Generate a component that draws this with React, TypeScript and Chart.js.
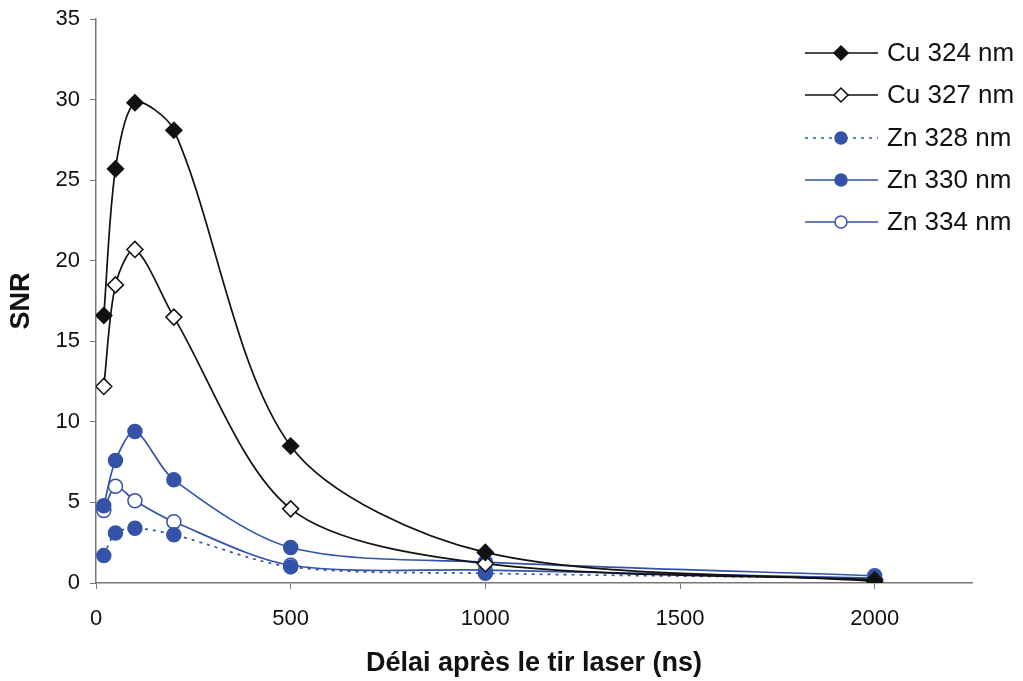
import React, { useEffect, useRef } from "react";
import { Chart, registerables } from "chart.js";

Chart.register(...registerables);

const delays = [20, 50, 100, 200, 500, 1000, 2000];
const cu324 = [16.6, 25.7, 29.8, 28.1, 8.5, 1.9, 0.1];
const cu327 = [12.2, 18.5, 20.7, 16.5, 4.6, 1.2, 0.2];
const zn328 = [1.7, 3.1, 3.4, 3.0, 1.0, 0.6, 0.3];
const zn330 = [4.8, 7.6, 9.4, 6.4, 2.2, 1.3, 0.45];
const zn334 = [4.5, 6.0, 5.1, 3.8, 1.1, 0.8, 0.3];
const xTicks = [0, 500, 1000, 1500, 2000];
const yTicks = [0, 5, 10, 15, 20, 25, 30, 35];

const BLUE = "#3453a8";
const FONT = "'Liberation Sans', Arial, sans-serif";

const pts = (ys: number[]) => delays.map((x, i) => ({ x, y: ys[i] }));

export default function App() {
  const ref = useRef<HTMLCanvasElement | null>(null);
  useEffect(() => {
    if (!ref.current) return;
    const series = [
      { label: "Cu 324 nm", data: cu324, color: "#111", fill: "#111", style: "rectRot", dash: [] as number[], r: 8 },
      { label: "Cu 327 nm", data: cu327, color: "#111", fill: "#fff", style: "rectRot", dash: [], r: 8 },
      { label: "Zn 328 nm", data: zn328, color: BLUE, fill: BLUE, style: "circle", dash: [3, 5], r: 7 },
      { label: "Zn 330 nm", data: zn330, color: BLUE, fill: BLUE, style: "circle", dash: [], r: 7 },
      { label: "Zn 334 nm", data: zn334, color: BLUE, fill: "#fff", style: "circle", dash: [], r: 7 },
    ];
    const titles = {
      id: "titlesLegend",
      afterDraw(chart: any) {
        const ctx = chart.ctx;
        const area = chart.chartArea;
        ctx.save();
        ctx.fillStyle = "#111";
        ctx.font = `bold 27px ${FONT}`;
        ctx.textAlign = "center";
        ctx.textBaseline = "middle";
        ctx.fillText("Délai après le tir laser (ns)", (area.left + area.right) / 2, 664);
        ctx.translate(22, (area.top + area.bottom) / 2);
        ctx.rotate(-Math.PI / 2);
        ctx.fillText("SNR", 0, 0);
        ctx.restore();
        // legend
        ctx.save();
        const rows = [53, 95, 138, 180, 222];
        series.forEach((s, i) => {
          const y = rows[i];
          ctx.strokeStyle = s.color;
          ctx.lineWidth = 1.5;
          ctx.setLineDash(s.dash);
          ctx.beginPath();
          ctx.moveTo(805, y);
          ctx.lineTo(878, y);
          ctx.stroke();
          ctx.setLineDash([]);
          ctx.fillStyle = s.fill;
          ctx.beginPath();
          if (s.style === "rectRot") {
            const r = 7;
            ctx.moveTo(841, y - r);
            ctx.lineTo(841 + r, y);
            ctx.lineTo(841, y + r);
            ctx.lineTo(841 - r, y);
            ctx.closePath();
          } else {
            ctx.arc(841, y, 6, 0, Math.PI * 2);
          }
          ctx.fill();
          ctx.stroke();
          ctx.fillStyle = "#111";
          ctx.font = `26px ${FONT}`;
          ctx.textAlign = "left";
          ctx.textBaseline = "middle";
          ctx.fillText(s.label, 887, y + 1);
        });
        ctx.restore();
      },
    };
    const chart = new Chart(ref.current, {
      type: "line",
      data: {
        datasets: series.map((s) => ({
          label: s.label,
          data: pts(s.data),
          borderColor: s.color,
          backgroundColor: s.fill,
          borderWidth: 1.7,
          borderDash: s.dash,
          pointStyle: s.style as any,
          pointRadius: s.r,
          pointBorderColor: s.color,
          pointBackgroundColor: s.fill,
          pointBorderWidth: 1.5,
          tension: 0.3,
        })),
      },
      options: {
        animation: false,
        responsive: false,
        layout: { padding: { top: 19, right: 51, left: 0, bottom: 0 } },
        plugins: { legend: { display: false }, tooltip: { enabled: false } },
        scales: {
          x: {
            type: "linear",
            min: 0,
            max: 2250,
            afterBuildTicks: (s: any) => {
              s.ticks = xTicks.map((v) => ({ value: v }));
            },
            afterFit: (s: any) => {
              s.height = 98;
            },
            grid: { drawOnChartArea: false, drawTicks: true, tickLength: 6, color: "#777" },
            border: { display: true, color: "#777", width: 1.5 },
            ticks: {
              color: "#111",
              font: { size: 22, family: FONT },
              padding: 17,
              maxRotation: 0,
              callback: (v: any) => String(v),
            },
          },
          y: {
            type: "linear",
            min: 0,
            max: 35,
            afterBuildTicks: (s: any) => {
              s.ticks = yTicks.map((v) => ({ value: v }));
            },
            afterFit: (s: any) => {
              s.width = 96;
              s.paddingTop = 0;
              s.paddingBottom = 0;
            },
            grid: { drawOnChartArea: false, drawTicks: true, tickLength: 6, color: "#777" },
            border: { display: true, color: "#777", width: 1.5 },
            ticks: {
              color: "#111",
              font: { size: 22, family: FONT, lineHeight: 0.8 },
              padding: 10,
              callback: (v: any) => String(v),
            },
          },
        },
      },
      plugins: [titles],
    });
    return () => chart.destroy();
  }, []);
  return (
    <div style={{ position: "fixed", left: 0, top: 0, width: 1023, height: 681, background: "#fff" }}>
      <canvas ref={ref} width={1023} height={681} />
    </div>
  );
}
